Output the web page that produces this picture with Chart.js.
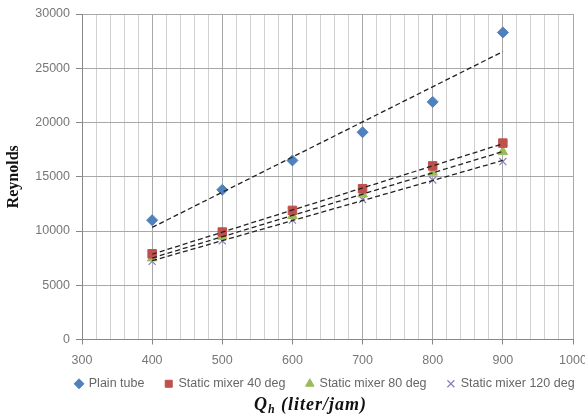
<!DOCTYPE html>
<html>
<head>
<meta charset="utf-8">
<script src="https://cdn.jsdelivr.net/npm/chart.js@4.4.1/dist/chart.umd.min.js"></script>
<style>
  html, body { margin: 0; padding: 0; background: #fff; }
  #wrap { width: 585px; height: 418px; }
</style>
</head>
<body>
<div id="wrap"><canvas id="c" width="585" height="418"></canvas></div>
<script>
// ---- data ----
const flowRates = [400, 500, 600, 700, 800, 900];          // Q_h (liter/jam)
const plainTube = [11000, 13800, 16500, 19100, 21900, 28300];
const mixer40   = [7900, 9900, 11900, 13900, 16000, 18100];
const mixer80   = [7500, 9500, 11400, 13400, 15400, 17300];
const mixer120  = [7200, 9100, 11000, 12900, 14700, 16400];
const seriesNames = ['Plain tube', 'Static mixer 40 deg', 'Static mixer 80 deg', 'Static mixer 120 deg'];
const xTickMin = 300, xTickMax = 1000, xMajorStep = 100, xMinorStep = 20;
const yTickMin = 0, yTickMax = 30000, yStep = 5000;

function pts(ys) { return flowRates.map((x, i) => ({ x: x, y: ys[i] })); }

// linear least-squares trend line (like Excel's linear trendline)
function trend(ys) {
  const n = flowRates.length;
  const mx = flowRates.reduce((a, b) => a + b, 0) / n;
  const my = ys.reduce((a, b) => a + b, 0) / n;
  let sxy = 0, sxx = 0;
  for (let i = 0; i < n; i++) {
    sxy += (flowRates[i] - mx) * (ys[i] - my);
    sxx += (flowRates[i] - mx) * (flowRates[i] - mx);
  }
  const m = sxy / sxx, b = my - m * mx;
  const x0 = flowRates[0], x1 = flowRates[n - 1];
  return [{ x: x0, y: m * x0 + b }, { x: x1, y: m * x1 + b }];
}

const markerSeries = [
  { data: plainTube, style: 'rectRot', color: '#4F81BD', r: 5.5 },
  { data: mixer40,   style: 'rect',    color: '#C0504D', r: 6 },
  { data: mixer80,   style: 'triangle',color: '#9BBB59', r: 5.5 },
  { data: mixer120,  style: 'crossRot',color: '#8E7CC3', r: 5 }
];

const datasets = [];
markerSeries.forEach((s, i) => {
  datasets.push({
    label: seriesNames[i],
    data: pts(s.data),
    showLine: false,
    pointStyle: s.style,
    pointRadius: s.r,
    pointHoverRadius: s.r,
    backgroundColor: s.color,
    borderColor: s.color,
    pointBorderWidth: s.style === 'crossRot' ? 1.2 : 1,
    order: 1
  });
});
markerSeries.forEach((s, i) => {
  datasets.push({
    label: 'trend' + i,
    data: trend(s.data),
    showLine: true,
    borderColor: '#222',
    borderWidth: 1.3,
    borderDash: [5, 3],
    pointRadius: 0,
    fill: false,
    order: 0
  });
});

const xTitlePlugin = {
  id: 'xTitle',
  afterDraw(chart) {
    const ctx = chart.ctx;
    const ca = chart.chartArea;
    const cx = (ca.left + ca.right) / 2 - 17;
    const cy = 405;
    ctx.save();
    ctx.fillStyle = '#111';
    ctx.textBaseline = 'alphabetic';
    if ('letterSpacing' in ctx) ctx.letterSpacing = '1px';
    const big = 'bold italic 18px "Liberation Serif", "DejaVu Serif", serif';
    const small = 'bold italic 12px "Liberation Serif", "DejaVu Serif", serif';
    const p1 = 'Q', p2 = 'h', p3 = ' (liter/jam)';
    ctx.font = big; const w1 = ctx.measureText(p1).width, w3 = ctx.measureText(p3).width;
    ctx.font = small; const w2 = ctx.measureText(p2).width;
    let x = cx - (w1 + w2 + w3) / 2;
    const base = cy + 5;
    ctx.font = big; ctx.fillText(p1, x, base); x += w1;
    ctx.font = small; ctx.fillText(p2, x, base + 3); x += w2;
    ctx.font = big; ctx.fillText(p3, x, base);
    ctx.restore();
  }
};

const legendGap = '\u00a0\u00a0\u00a0\u00a0\u00a0\u00a0';
const legendTail = '\u00a0\u00a0\u00a0';

new Chart(document.getElementById('c'), {
  type: 'scatter',
  data: { datasets: datasets },
  options: {
    responsive: false,
    animation: false,
    devicePixelRatio: 1,
    layout: { padding: { left: 4, right: 0, top: 14, bottom: 18 } },
    plugins: {
      legend: {
        position: 'bottom',
        align: 'end',
        labels: {
          usePointStyle: true,
          boxWidth: 7,
          boxHeight: 7,
          padding: 0,
          color: '#666',
          font: { family: '"Liberation Sans", Arial, sans-serif', size: 12.5 },
          filter: (item) => item.datasetIndex < 4,
          generateLabels: (chart) => {
            const base = Chart.defaults.plugins.legend.labels.generateLabels(chart);
            return base.map((it) => {
              it.text = it.text + (it.datasetIndex < 3 ? legendGap : legendTail);
              return it;
            });
          }
        }
      },
      tooltip: { enabled: false },
      title: { display: false }
    },
    scales: {
      x: {
        type: 'linear',
        min: xTickMin,
        max: xTickMax,
        ticks: {
          stepSize: xMinorStep,
          autoSkip: false,
          maxRotation: 0,
          padding: 9,
          color: '#777',
          font: { family: '"Liberation Sans", Arial, sans-serif', size: 12.5 },
          callback: (v) => (v % xMajorStep === 0 ? String(v) : '')
        },
        grid: {
          color: (ctx) => (ctx.tick && ctx.tick.value % xMajorStep === 0 ? '#a8a8a8' : '#d0d0d0'),
          tickColor: (ctx) => (ctx.tick && ctx.tick.value % xMajorStep === 0 ? '#888' : 'rgba(0,0,0,0)'),
          tickLength: 5,
          lineWidth: 1
        },
        border: { color: '#888' },
        afterFit: (scale) => { scale.paddingRight = 12; }
      },
      y: {
        type: 'linear',
        min: yTickMin,
        max: yTickMax,
        ticks: {
          stepSize: yStep,
          padding: 6,
          color: '#777',
          font: { family: '"Liberation Sans", Arial, sans-serif', size: 12.5 },
          callback: (v) => String(v)
        },
        grid: { color: '#a8a8a8', tickColor: '#888', tickLength: 6, lineWidth: 1 },
        border: { color: '#888' },
        title: {
          display: true,
          text: 'Reynolds',
          color: '#111',
          font: { family: '"Liberation Serif", "DejaVu Serif", serif', size: 16, weight: 'bold' },
          padding: { top: 0, bottom: 0 }
        },
        afterFit: (scale) => { scale.width = 78; }
      }
    }
  },
  plugins: [xTitlePlugin]
});
</script>
</body>
</html>
